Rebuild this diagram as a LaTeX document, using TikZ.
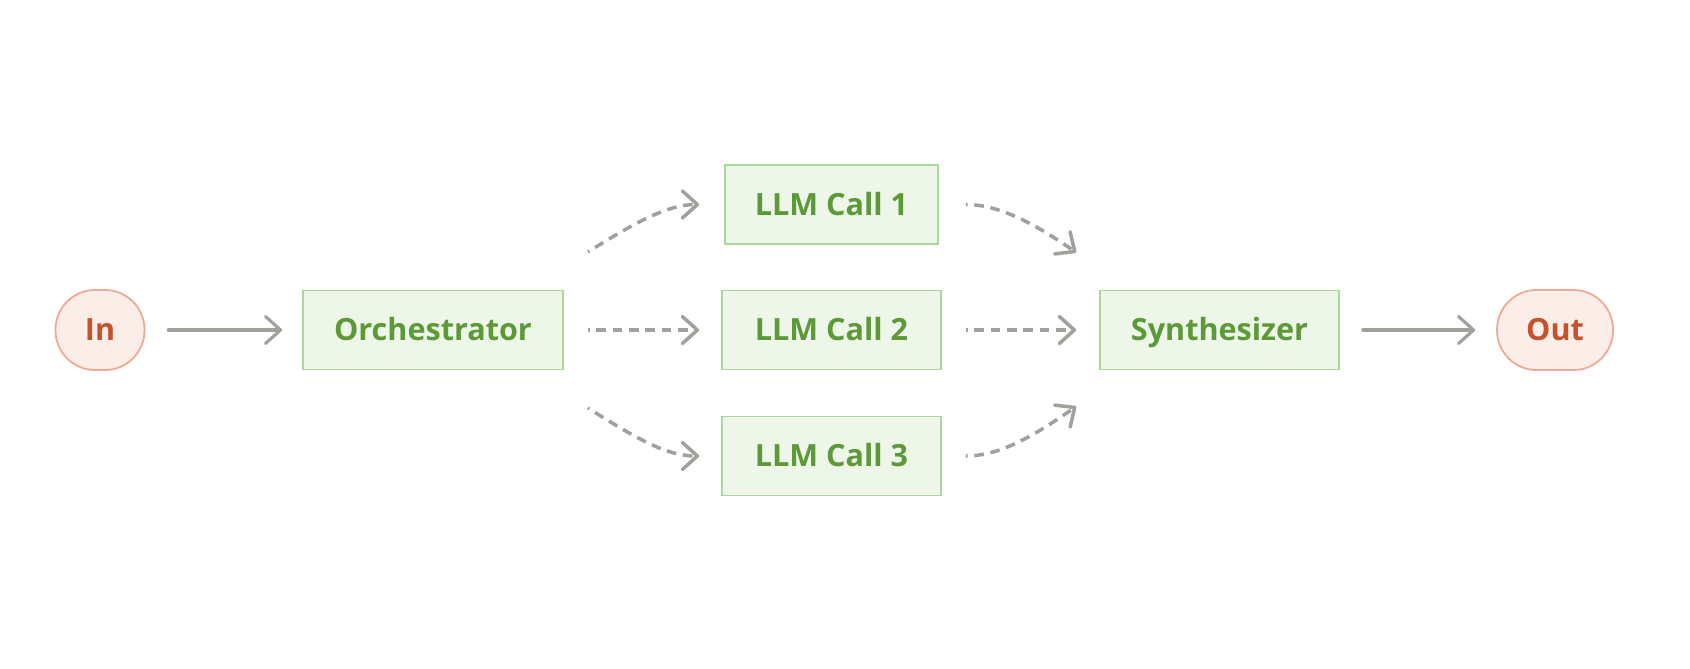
\documentclass[tikz,border=0pt]{standalone}
\usepackage{fontspec}
\setmainfont{Open Sans}
\usepackage{xcolor}
\definecolor{flowGreen}{HTML}{5B9A37}
\definecolor{flowGreenBg}{HTML}{EEF5E9}
\definecolor{flowGreenLine}{HTML}{AAD79C}
\definecolor{flowRust}{HTML}{C5522D}
\definecolor{flowRustBg}{HTML}{FBEDE8}
\definecolor{flowRustLine}{HTML}{F0A891}
\definecolor{flowGrey}{HTML}{A0A19B}
\usepackage{tikz}
\usetikzlibrary{arrows.meta, positioning, calc}
\tikzset{
  %% ── Boxes ────────────────────────────────────────────────────────────
  %% Green boxes are the steps, the rust pills are where the flow enters
  %% and leaves. Capitals are centred, so every label shares one baseline.
  stepBox/.style = {draw=flowGreenLine, line width=1pt, fill=flowGreenBg,
                    text=flowGreen, font=\fontsize{17.4}{20}\selectfont\bfseries,
                    text height=12.4pt, text depth=0pt,
                    minimum height=1.58cm, inner xsep=0.5cm},
  endPill/.style = {draw=flowRustLine, line width=1pt, fill=flowRustBg,
                    text=flowRust, font=\fontsize{17.4}{20}\selectfont\bfseries,
                    text height=12.4pt, text depth=0pt,
                    minimum height=1.6cm, rounded corners=0.79cm},
  %%
  %% ── Arrows ───────────────────────────────────────────────────────────
  %% Solid for the fixed path, dashed for the calls the orchestrator
  %% decides on at run time.
  flow/.style     = {-{Straight Barb[length=3mm, width=5.4mm, round]},
                     draw=flowGrey, line width=1.8pt, line cap=round},
  flowDash/.style = {flow, line width=2pt, line cap=butt,
                     dash pattern=on 5.5pt off 3.8pt, dash phase=4.5pt},
}

\begin{document}
\begin{tikzpicture}[x=1cm, y=1cm]
\useasboundingbox (0,6.6) rectangle (33.8,-6.76);

\node[endPill, minimum width=1.78cm] (in) at (2.0, 0) {In};
\node[stepBox, minimum width=5.2cm] (orch) at (8.66, 0) {Orchestrator};
\node[stepBox, minimum width=4.26cm] (call1) at (16.63, 2.51) {LLM Call 1};
\node[stepBox, minimum width=4.38cm] (call2) at (16.63, 0) {LLM Call 2};
\node[stepBox, minimum width=4.38cm] (call3) at (16.63, -2.52) {LLM Call 3};
\node[stepBox, minimum width=4.78cm] (synth) at (24.39, 0) {Synthesizer};
\node[endPill, minimum width=2.32cm] (out) at (31.1, 0) {Out};

% loose ends of the fan-out and fan-in curves
\coordinate (fanUp) at ($(orch.east)+(0.48,1.56)$);
\coordinate (fanDown) at ($(orch.east)+(0.48,-1.56)$);
\coordinate (joinUp) at ($(synth.west)+(-0.46,1.55)$);
\coordinate (joinDown) at ($(synth.west)+(-0.46,-1.53)$);

\draw[flow, shorten <=0.46cm, shorten >=0.4cm] (in) -- (orch);
\draw[flowDash, shorten <=0.48cm, shorten >=0.44cm] (orch) -- (call2);
\draw[flowDash, shorten >=0.5cm] (fanUp) to[out=32, in=180] (call1.west);
\draw[flowDash, shorten >=0.44cm] (fanDown) to[out=-32, in=180] (call3.west);

\draw[flowDash, shorten <=0.48cm, shorten >=0.46cm] (call2) -- (synth);
\draw[flowDash, shorten <=0.54cm] (call1.east) to[out=0, in=145] (joinUp);
\draw[flowDash, shorten <=0.48cm] (call3.east) to[out=0, in=-145] (joinDown);
\draw[flow, shorten <=0.46cm, shorten >=0.42cm] (synth) -- (out);

\end{tikzpicture}
\end{document}
